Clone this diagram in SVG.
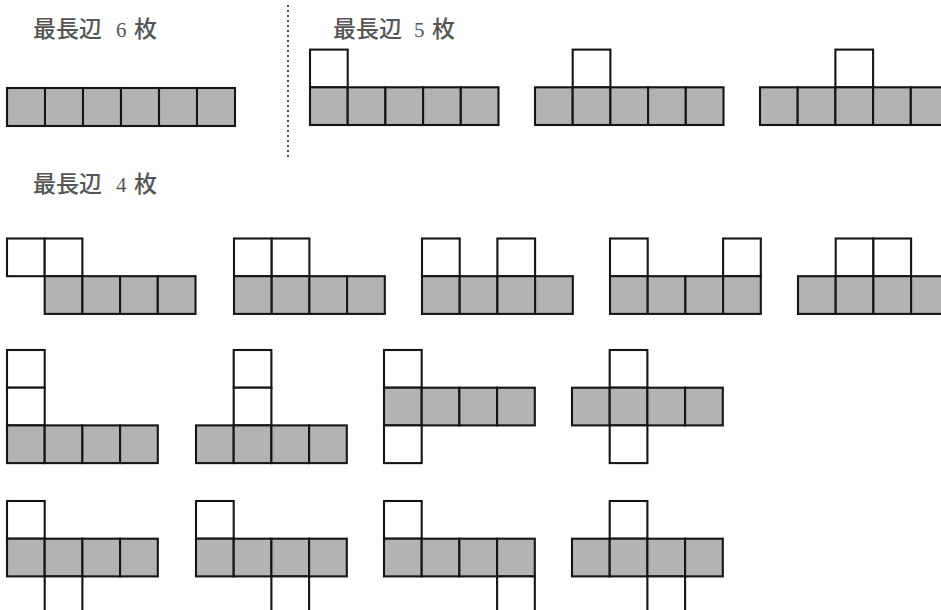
<svg xmlns="http://www.w3.org/2000/svg" xmlns:xlink="http://www.w3.org/1999/xlink" width="941" height="610" viewBox="0 0 941 610">
<style>
  .g { fill: #b3b3b3; stroke: #151515; stroke-width: 2.1; }
  .w { fill: #ffffff; stroke: #151515; stroke-width: 2.1; }
  .t { font-family: "Noto Sans CJK JP", "Noto Sans CJK SC", sans-serif; font-size: 23px; font-weight: 500; fill: #555555; }
  .n { font-family: "Liberation Serif", serif; font-size: 21px; fill: #555555; }
  .sep { stroke: #222; stroke-width: 1.6; stroke-dasharray: 2 3; fill: none; }
</style>
<defs>
  <rect id="gc" class="g" width="37.7" height="37.7"/>
  <rect id="wc" class="w" width="37.7" height="37.7"/>
</defs>
<rect width="941" height="610" fill="#ffffff"/>

<g id="labels">
  <text class="t" x="33" y="37">最長辺<tspan class="n" x="116">6</tspan><tspan x="134">枚</tspan></text>
  <text class="t" x="333" y="37">最長辺<tspan class="n" x="414">5</tspan><tspan x="432">枚</tspan></text>
  <text class="t" x="33" y="192">最長辺<tspan class="n" x="116">4</tspan><tspan x="134">枚</tspan></text>
</g>

<line id="separator" class="sep" x1="288" y1="5" x2="288" y2="157"/>

<g id="connectors"></g>

<!-- Row 1 -->
<g id="hex6">
  <rect class="g" x="7" y="88" width="38" height="38"/>
  <rect class="g" x="45" y="88" width="38" height="38"/>
  <rect class="g" x="83" y="88" width="38" height="38"/>
  <rect class="g" x="121" y="88" width="38" height="38"/>
  <rect class="g" x="159" y="88" width="38" height="38"/>
  <rect class="g" x="197" y="88" width="38" height="38"/>
</g>
<g id="hex5a" transform="translate(310,49.6)">
  <use xlink:href="#wc" x="0" y="0"/>
  <use xlink:href="#gc" x="0" y="37.7"/><use xlink:href="#gc" x="37.7" y="37.7"/><use xlink:href="#gc" x="75.4" y="37.7"/><use xlink:href="#gc" x="113.1" y="37.7"/><use xlink:href="#gc" x="150.8" y="37.7"/>
</g>
<g id="hex5b" transform="translate(535,49.6)">
  <use xlink:href="#wc" x="37.7" y="0"/>
  <use xlink:href="#gc" x="0" y="37.7"/><use xlink:href="#gc" x="37.7" y="37.7"/><use xlink:href="#gc" x="75.4" y="37.7"/><use xlink:href="#gc" x="113.1" y="37.7"/><use xlink:href="#gc" x="150.8" y="37.7"/>
</g>
<g id="hex5c" transform="translate(760,49.6)">
  <use xlink:href="#wc" x="75.4" y="0"/>
  <use xlink:href="#gc" x="0" y="37.7"/><use xlink:href="#gc" x="37.7" y="37.7"/><use xlink:href="#gc" x="75.4" y="37.7"/><use xlink:href="#gc" x="113.1" y="37.7"/><use xlink:href="#gc" x="150.8" y="37.7"/>
</g>

<!-- Row 2 -->
<g id="hex4a" transform="translate(7,238.5)">
  <use xlink:href="#wc" x="0" y="0"/><use xlink:href="#wc" x="37.7" y="0"/>
  <use xlink:href="#gc" x="37.7" y="37.7"/><use xlink:href="#gc" x="75.4" y="37.7"/><use xlink:href="#gc" x="113.1" y="37.7"/><use xlink:href="#gc" x="150.8" y="37.7"/>
</g>
<g id="hex4b" transform="translate(234,238.5)">
  <use xlink:href="#wc" x="0" y="0"/><use xlink:href="#wc" x="37.7" y="0"/>
  <use xlink:href="#gc" x="0" y="37.7"/><use xlink:href="#gc" x="37.7" y="37.7"/><use xlink:href="#gc" x="75.4" y="37.7"/><use xlink:href="#gc" x="113.1" y="37.7"/>
</g>
<g id="hex4c" transform="translate(422,238.5)">
  <use xlink:href="#wc" x="0" y="0"/><use xlink:href="#wc" x="75.4" y="0"/>
  <use xlink:href="#gc" x="0" y="37.7"/><use xlink:href="#gc" x="37.7" y="37.7"/><use xlink:href="#gc" x="75.4" y="37.7"/><use xlink:href="#gc" x="113.1" y="37.7"/>
</g>
<g id="hex4d" transform="translate(610,238.5)">
  <use xlink:href="#wc" x="0" y="0"/><use xlink:href="#wc" x="113.1" y="0"/>
  <use xlink:href="#gc" x="0" y="37.7"/><use xlink:href="#gc" x="37.7" y="37.7"/><use xlink:href="#gc" x="75.4" y="37.7"/><use xlink:href="#gc" x="113.1" y="37.7"/>
</g>
<g id="hex4e" transform="translate(798,238.5)">
  <use xlink:href="#wc" x="37.7" y="0"/><use xlink:href="#wc" x="75.4" y="0"/>
  <use xlink:href="#gc" x="0" y="37.7"/><use xlink:href="#gc" x="37.7" y="37.7"/><use xlink:href="#gc" x="75.4" y="37.7"/><use xlink:href="#gc" x="113.1" y="37.7"/>
</g>

<!-- Row 3 -->
<g id="hex4f" transform="translate(7,350)">
  <use xlink:href="#wc" x="0" y="0"/><use xlink:href="#wc" x="0" y="37.7"/>
  <use xlink:href="#gc" x="0" y="75.4"/><use xlink:href="#gc" x="37.7" y="75.4"/><use xlink:href="#gc" x="75.4" y="75.4"/><use xlink:href="#gc" x="113.1" y="75.4"/>
</g>
<g id="hex4g" transform="translate(196,350)">
  <use xlink:href="#wc" x="37.7" y="0"/><use xlink:href="#wc" x="37.7" y="37.7"/>
  <use xlink:href="#gc" x="0" y="75.4"/><use xlink:href="#gc" x="37.7" y="75.4"/><use xlink:href="#gc" x="75.4" y="75.4"/><use xlink:href="#gc" x="113.1" y="75.4"/>
</g>
<g id="hex4h" transform="translate(384,350)">
  <use xlink:href="#wc" x="0" y="0"/>
  <use xlink:href="#gc" x="0" y="37.7"/><use xlink:href="#gc" x="37.7" y="37.7"/><use xlink:href="#gc" x="75.4" y="37.7"/><use xlink:href="#gc" x="113.1" y="37.7"/>
  <use xlink:href="#wc" x="0" y="75.4"/>
</g>
<g id="hex4i" transform="translate(572,350)">
  <use xlink:href="#wc" x="37.7" y="0"/>
  <use xlink:href="#gc" x="0" y="37.7"/><use xlink:href="#gc" x="37.7" y="37.7"/><use xlink:href="#gc" x="75.4" y="37.7"/><use xlink:href="#gc" x="113.1" y="37.7"/>
  <use xlink:href="#wc" x="37.7" y="75.4"/>
</g>

<!-- Row 4 -->
<g id="hex4j" transform="translate(7,501)">
  <use xlink:href="#wc" x="0" y="0"/>
  <use xlink:href="#gc" x="0" y="37.7"/><use xlink:href="#gc" x="37.7" y="37.7"/><use xlink:href="#gc" x="75.4" y="37.7"/><use xlink:href="#gc" x="113.1" y="37.7"/>
  <use xlink:href="#wc" x="37.7" y="75.4"/>
</g>
<g id="hex4k" transform="translate(196,501)">
  <use xlink:href="#wc" x="0" y="0"/>
  <use xlink:href="#gc" x="0" y="37.7"/><use xlink:href="#gc" x="37.7" y="37.7"/><use xlink:href="#gc" x="75.4" y="37.7"/><use xlink:href="#gc" x="113.1" y="37.7"/>
  <use xlink:href="#wc" x="75.4" y="75.4"/>
</g>
<g id="hex4l" transform="translate(384,501)">
  <use xlink:href="#wc" x="0" y="0"/>
  <use xlink:href="#gc" x="0" y="37.7"/><use xlink:href="#gc" x="37.7" y="37.7"/><use xlink:href="#gc" x="75.4" y="37.7"/><use xlink:href="#gc" x="113.1" y="37.7"/>
  <use xlink:href="#wc" x="113.1" y="75.4"/>
</g>
<g id="hex4m" transform="translate(572,501)">
  <use xlink:href="#wc" x="37.7" y="0"/>
  <use xlink:href="#gc" x="0" y="37.7"/><use xlink:href="#gc" x="37.7" y="37.7"/><use xlink:href="#gc" x="75.4" y="37.7"/><use xlink:href="#gc" x="113.1" y="37.7"/>
  <use xlink:href="#wc" x="75.4" y="75.4"/>
</g>
</svg>
